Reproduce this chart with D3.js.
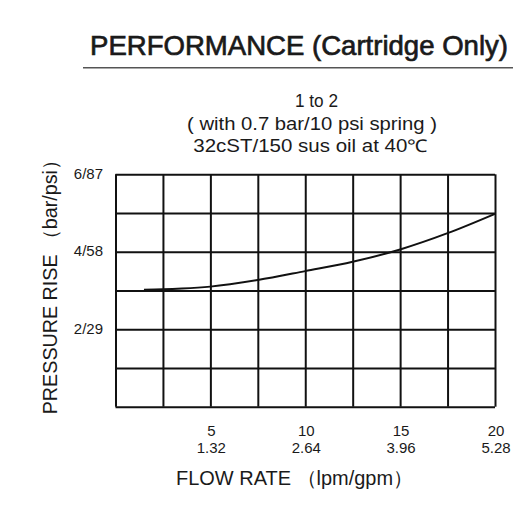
<!DOCTYPE html>
<html><head><meta charset="utf-8">
<script src="https://cdn.jsdelivr.net/npm/d3@7"></script>
<style>
html,body{margin:0;padding:0;background:#fff;}
svg text{font-family:"Liberation Sans",Arial,sans-serif;fill:#1a1a1a;}
</style></head>
<body><svg id="c" width="532" height="518"></svg>
<script>
// ---- data ----
const titleText = "PERFORMANCE (Cartridge Only)";
const subtitleLines = ["1 to 2", "( with 0.7 bar/10 psi spring )", "32cST/150 sus oil at 40\u2103"];
const xTitle = "FLOW RATE \uFF08lpm/gpm\uFF09";
const yTitle = "PRESSURE RISE \uFF08bar/psi\uFF09";
const xTickValues = [5, 10, 15, 20];
const xTickLpm = ["5", "10", "15", "20"];
const xTickGpm = ["1.32", "2.64", "3.96", "5.28"];
const yTickValues = [2, 4, 6];
const yTickLabels = ["2/29", "4/58", "6/87"];
const flow = [1.5, 2.5, 3.5, 5, 7.5, 10, 12.5, 15, 17.5, 20];
const pressure = [3.02, 3.03, 3.05, 3.1, 3.27, 3.5, 3.74, 4.06, 4.48, 4.98];
const xGrid = [0, 2.5, 5, 7.5, 10, 12.5, 15, 17.5, 20];
const yGrid = [0, 1, 2, 3, 4, 5, 6];

const svg = d3.select("#c");
const L = 115.5, R = 495, T = 174.3, B = 406.7;
const x = d3.scaleLinear().domain([0, 20]).range([L, R]);
const y = d3.scaleLinear().domain([0, 6]).range([B, T]);

// title
svg.append("text").attr("x", 90).attr("y", 55).attr("font-size", 28)
  .attr("textLength", 418).attr("lengthAdjust", "spacingAndGlyphs")
  .attr("stroke", "#1a1a1a").attr("stroke-width", 0.7)
  .text(titleText);
svg.append("line").attr("x1", 83).attr("x2", 513).attr("y1", 67.7).attr("y2", 67.7)
  .attr("stroke", "#555").attr("stroke-width", 1.5);

// subtitle
const subX = [[295, 43], [187, 250], [193.3, 234]];
const subY = [107, 129.5, 152];
subtitleLines.forEach((s, i) => {
  svg.append("text").attr("x", subX[i][0]).attr("y", subY[i]).attr("font-size", 17.5)
    .attr("textLength", subX[i][1]).attr("lengthAdjust", "spacingAndGlyphs").text(s);
});

// grid
const g = svg.append("g");
g.append("g").attr("transform", `translate(0,${B})`)
  .call(d3.axisBottom(x).tickValues(xGrid).tickSize(-(B - T)).tickFormat(""))
  .call(a => a.select(".domain").remove())
  .selectAll("line").attr("stroke", "#111").attr("stroke-width", 2);
g.append("g").attr("transform", `translate(${L},0)`)
  .call(d3.axisLeft(y).tickValues(yGrid).tickSize(-(R - L)).tickFormat(""))
  .call(a => a.select(".domain").remove())
  .selectAll("line").attr("stroke", "#111").attr("stroke-width", 2);

// curve
const pts = flow.map((f, i) => [f, pressure[i]]);
svg.append("path").datum(pts)
  .attr("d", d3.line().x(d => x(d[0])).y(d => y(d[1])).curve(d3.curveMonotoneX))
  .attr("fill", "none").attr("stroke", "#111").attr("stroke-width", 2);

// x tick labels
const xl = svg.append("g");
xTickValues.forEach((v, i) => {
  const t = xl.append("text").attr("text-anchor", "middle").attr("font-size", 15);
  t.append("tspan").attr("x", x(v) + 1).attr("y", 436).text(xTickLpm[i]);
  t.append("tspan").attr("x", x(v) + 1).attr("y", 453.3).text(xTickGpm[i]);
});
// y tick labels
yTickValues.forEach((v, i) => {
  svg.append("text").attr("x", 103).attr("y", y(v)).attr("dy", "0.3em")
    .attr("text-anchor", "end").attr("font-size", 15).text(yTickLabels[i]);
});

// axis titles
svg.append("text").attr("x", 176).attr("y", 485).attr("font-size", 20)
  .attr("textLength", 237).attr("lengthAdjust", "spacingAndGlyphs").text(xTitle);
svg.append("text").attr("transform", "translate(56.5,414.3) rotate(-90)")
  .attr("font-size", 20).attr("textLength", 264).attr("lengthAdjust", "spacingAndGlyphs").text(yTitle);
</script></body></html>
